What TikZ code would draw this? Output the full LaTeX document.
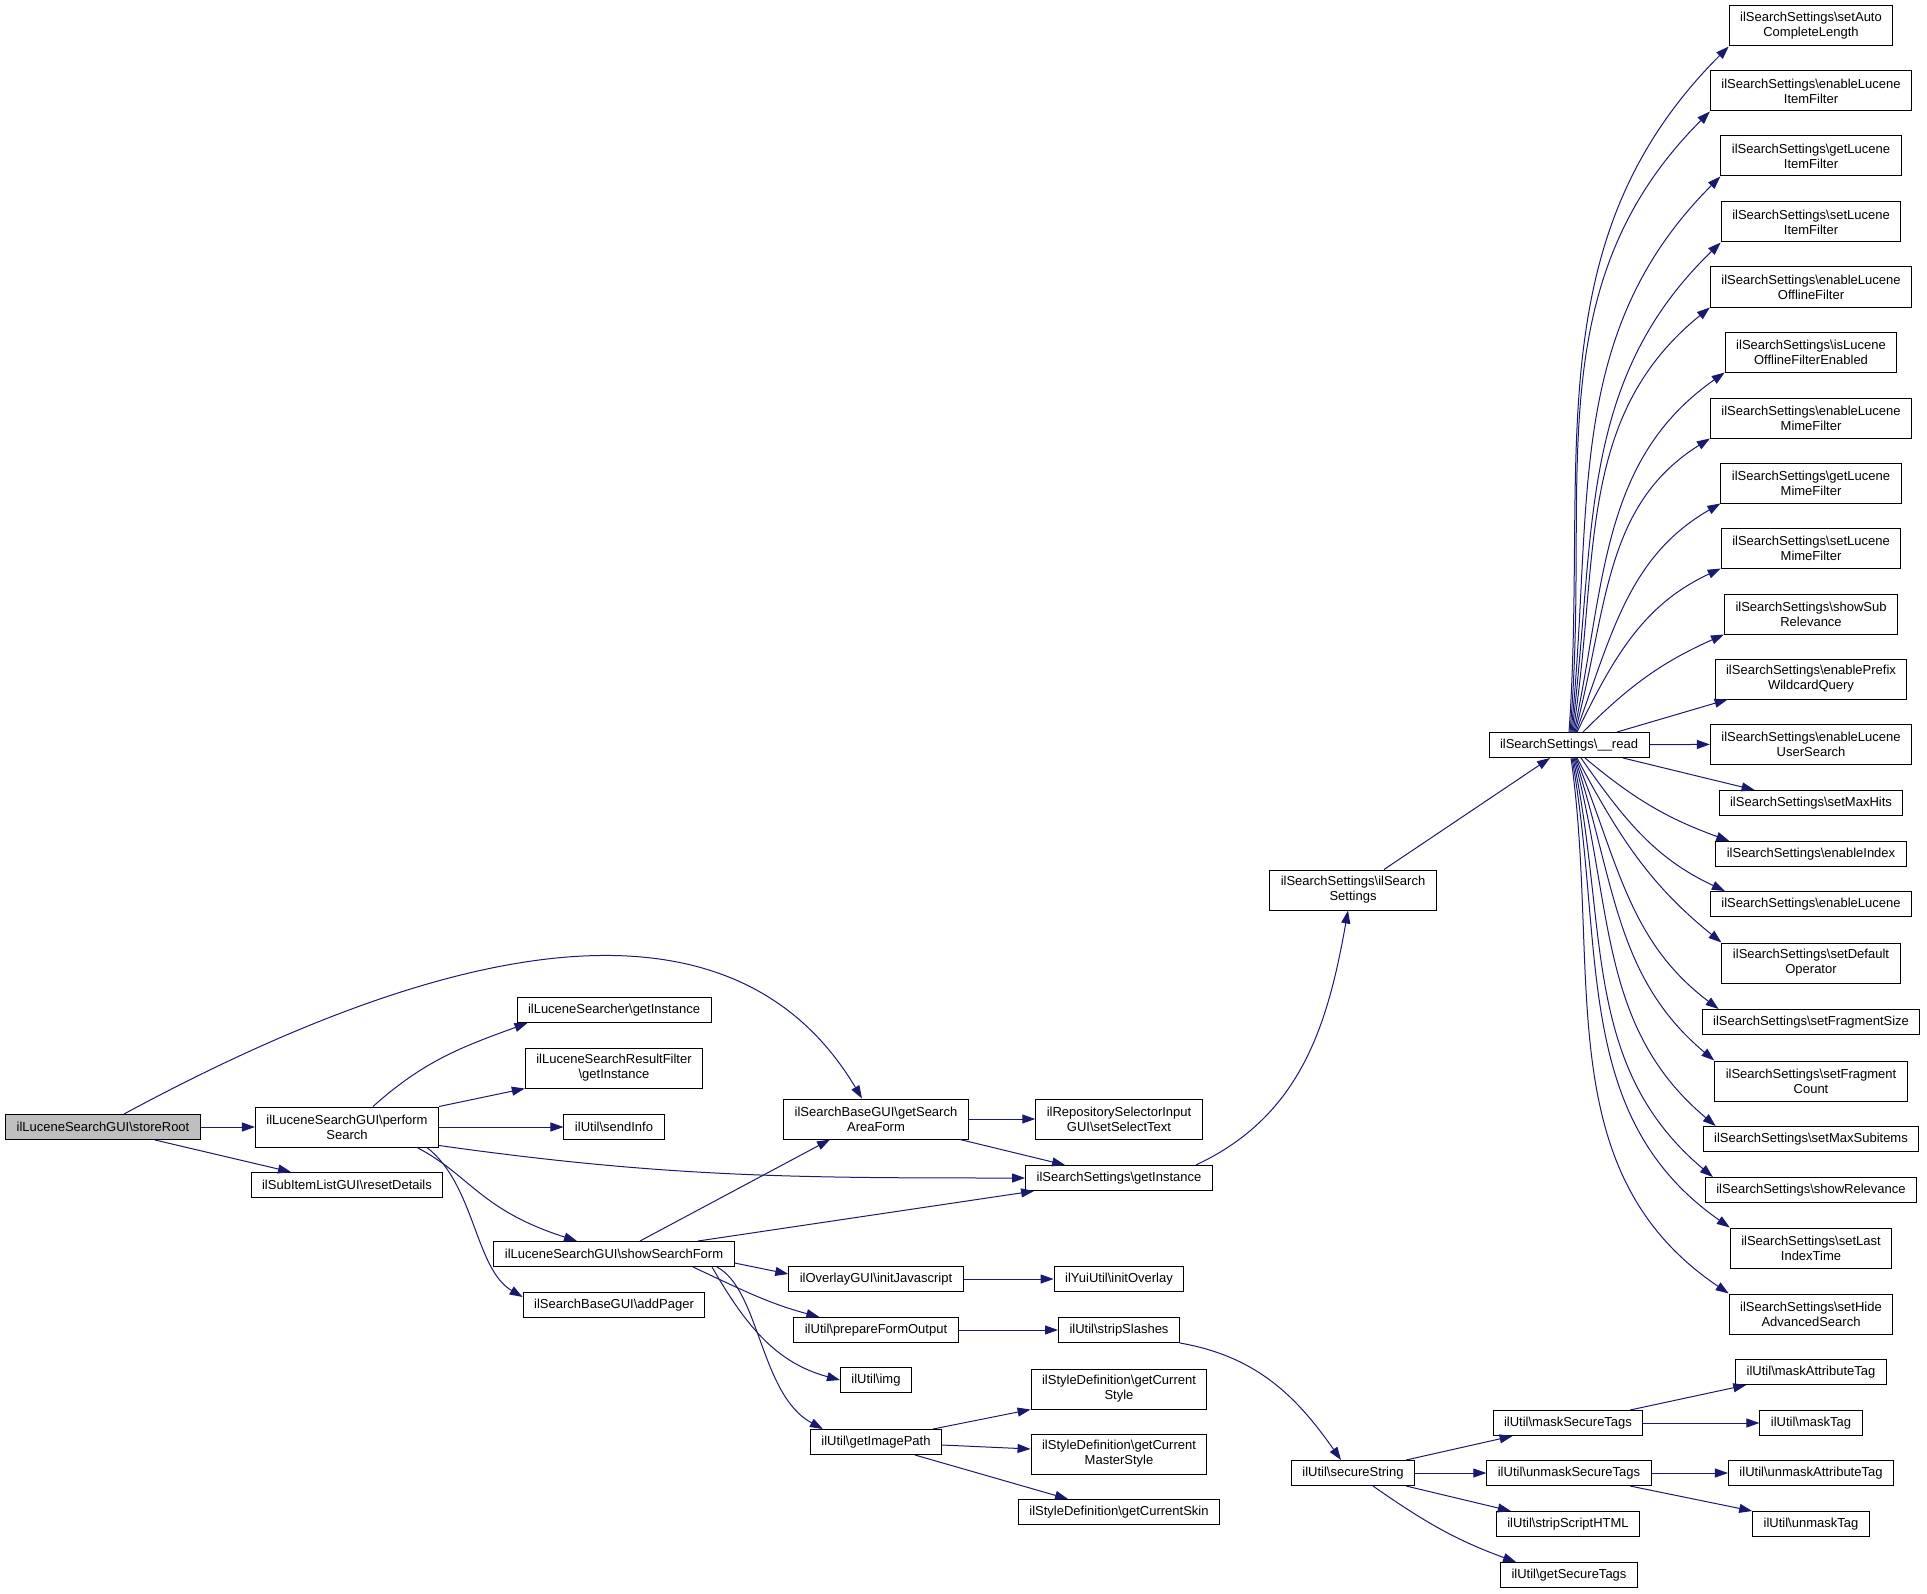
\documentclass[tikz,border=0pt]{standalone}
\usepackage{fontspec}
\setmainfont{Liberation Sans}
\usepackage{xcolor}
\usetikzlibrary{arrows.meta}

\definecolor{callblue}{RGB}{25,25,112}
\newcommand{\bsl}{\textbackslash}

\begin{document}
\begin{tikzpicture}[
            x=0.5pt, y=0.5pt,
            func/.style={draw=black, line width=0.5pt, fill=white, font=\fontsize{6.5}{7.5}\selectfont, align=center, inner xsep=5.5pt, inner ysep=3pt, minimum height=12.5pt},
            tall/.style={minimum height=20pt},
            focus/.style={func, fill=gray!50},
            call/.style={draw=callblue, line width=0.5pt, -{Triangle[length=6.5pt,width=4.5pt]}},
        ]
        \useasboundingbox (0,0) rectangle (1927,-1594);
        % caller side
        \node[focus] (root) at (103,-1127) {ilLuceneSearchGUI\bsl storeRoot};
        \node[func, tall] (perf) at (347,-1127) {ilLuceneSearchGUI\bsl perform\\Search};
        \node[func] (reset) at (347,-1185) {ilSubItemListGUI\bsl resetDetails};
        \node[func] (lsInst) at (614,-1010) {ilLuceneSearcher\bsl getInstance};
        \node[func, tall] (rfInst) at (614,-1068) {ilLuceneSearchResultFilter\\\bsl getInstance};
        \node[func] (sendInfo) at (614,-1127) {ilUtil\bsl sendInfo};
        \node[func] (showForm) at (614,-1254) {ilLuceneSearchGUI\bsl showSearchForm};
        \node[func] (addPager) at (614,-1305) {ilSearchBaseGUI\bsl addPager};
        \node[func, tall] (areaForm) at (876,-1119) {ilSearchBaseGUI\bsl getSearch\\AreaForm};
        \node[func, tall] (selText) at (1119,-1119) {ilRepositorySelectorInput\\GUI\bsl setSelectText};
        \node[func] (ssInst) at (1119,-1178) {ilSearchSettings\bsl getInstance};
        \node[func] (initJs) at (876,-1279) {ilOverlayGUI\bsl initJavascript};
        \node[func] (initOv) at (1119,-1279) {ilYuiUtil\bsl initOverlay};
        \node[func] (prepOut) at (876,-1330) {ilUtil\bsl prepareFormOutput};
        \node[func] (strip) at (1119,-1330) {ilUtil\bsl stripSlashes};
        \node[func] (img) at (876,-1380) {ilUtil\bsl img};
        \node[func] (imgPath) at (876,-1442) {ilUtil\bsl getImagePath};
        \node[func, tall] (curStyle) at (1119,-1389) {ilStyleDefinition\bsl getCurrent\\Style};
        \node[func, tall] (curMaster) at (1119,-1454) {ilStyleDefinition\bsl getCurrent\\MasterStyle};
        \node[func] (curSkin) at (1119,-1512) {ilStyleDefinition\bsl getCurrentSkin};
        \node[func, tall] (ssCtor) at (1353,-890) {ilSearchSettings\bsl ilSearch\\Settings};
        \node[func] (ssRead) at (1569,-745) {ilSearchSettings\bsl \_\_read};
        % secure string branch
        \node[func] (secStr) at (1353,-1473) {ilUtil\bsl secureString};
        \node[func] (maskSec) at (1568,-1423) {ilUtil\bsl maskSecureTags};
        \node[func] (unmaskSec) at (1569,-1473) {ilUtil\bsl unmaskSecureTags};
        \node[func] (stripHtml) at (1568,-1524) {ilUtil\bsl stripScriptHTML};
        \node[func] (getSec) at (1569,-1575) {ilUtil\bsl getSecureTags};
        \node[func] (maskAttr) at (1811,-1372) {ilUtil\bsl maskAttributeTag};
        \node[func] (maskTag) at (1811,-1423) {ilUtil\bsl maskTag};
        \node[func] (unmaskAttr) at (1811,-1473) {ilUtil\bsl unmaskAttributeTag};
        \node[func] (unmaskTag) at (1811,-1524) {ilUtil\bsl unmaskTag};
        % settings column
        \node[func, tall] (autoLen) at (1811,-26) {ilSearchSettings\bsl setAuto\\CompleteLength};
        \node[func, tall] (enItem) at (1811,-91) {ilSearchSettings\bsl enableLucene\\ItemFilter};
        \node[func, tall] (getItem) at (1811,-156) {ilSearchSettings\bsl getLucene\\ItemFilter};
        \node[func, tall] (setItem) at (1811,-222) {ilSearchSettings\bsl setLucene\\ItemFilter};
        \node[func, tall] (enOff) at (1811,-287) {ilSearchSettings\bsl enableLucene\\OfflineFilter};
        \node[func, tall] (isOff) at (1811,-352) {ilSearchSettings\bsl isLucene\\OfflineFilterEnabled};
        \node[func, tall] (enMime) at (1811,-418) {ilSearchSettings\bsl enableLucene\\MimeFilter};
        \node[func, tall] (getMime) at (1811,-483) {ilSearchSettings\bsl getLucene\\MimeFilter};
        \node[func, tall] (setMime) at (1811,-548) {ilSearchSettings\bsl setLucene\\MimeFilter};
        \node[func, tall] (subRel) at (1811,-614) {ilSearchSettings\bsl showSub\\Relevance};
        \node[func, tall] (prefix) at (1811,-679) {ilSearchSettings\bsl enablePrefix\\WildcardQuery};
        \node[func, tall] (userSrch) at (1811,-744) {ilSearchSettings\bsl enableLucene\\UserSearch};
        \node[func] (maxHits) at (1811,-803) {ilSearchSettings\bsl setMaxHits};
        \node[func] (enIdx) at (1811,-854) {ilSearchSettings\bsl enableIndex};
        \node[func] (enLuc) at (1811,-904) {ilSearchSettings\bsl enableLucene};
        \node[func, tall] (defOp) at (1811,-963) {ilSearchSettings\bsl setDefault\\Operator};
        \node[func] (fragSize) at (1811,-1022) {ilSearchSettings\bsl setFragmentSize};
        \node[func, tall] (fragCnt) at (1811,-1081) {ilSearchSettings\bsl setFragment\\Count};
        \node[func] (maxSub) at (1811,-1139) {ilSearchSettings\bsl setMaxSubitems};
        \node[func] (showRel) at (1811,-1190) {ilSearchSettings\bsl showRelevance};
        \node[func, tall] (lastIdx) at (1811,-1248) {ilSearchSettings\bsl setLast\\IndexTime};
        \node[func, tall] (hideAdv) at (1811,-1314) {ilSearchSettings\bsl setHide\\AdvancedSearch};

        % calls
        \draw[call] (root) -- (perf);
        \draw[call] ([xshift=26pt]root.south) -- ([xshift=-28pt]reset.north);
        \draw[call] ([xshift=10.5pt]root.north) .. controls (400,-965) and (720,-860) .. ([xshift=-7pt]areaForm.north);
        \draw[call] ([xshift=13pt]perf.north) to[out=42,in=-160] ([xshift=5.5pt]lsInst.south west);
        \draw[call] (perf.north east) -- (rfInst.south west);
        \draw[call] (perf) -- (sendInfo);
        \draw[call] ([yshift=1pt]perf.south east) to[out=-8,in=180] (ssInst.west);
        \draw[call] ([xshift=35pt]perf.south) .. controls (470,-1175) and (480,-1210) .. ([xshift=-18.5pt]showForm.north);
        \draw[call] ([xshift=40pt]perf.south) .. controls (475,-1185) and (475,-1269) .. ([yshift=-2.5pt]addPager.north west);
        \draw[call] (areaForm) -- (selText);
        \draw[call] ([xshift=42pt]areaForm.south) -- ([xshift=-27pt]ssInst.north);
        \draw[call] ([xshift=13pt]showForm.north) -- ([xshift=-23pt]areaForm.south);
        \draw[call] ([xshift=42pt]showForm.north) -- ([xshift=4.5pt]ssInst.south west);
        \draw[call] ([yshift=2pt]showForm.south east) -- ([yshift=-4pt]initJs.north west);
        \draw[call] ([xshift=39.5pt]showForm.south) to[out=-25,in=165] ([xshift=13pt]prepOut.north west);
        \draw[call] ([xshift=49pt]showForm.south) to[out=-60,in=165] (img.west);
        \draw[call] ([xshift=51.5pt]showForm.south) .. controls (760,-1290) and (760,-1395) .. ([xshift=6.5pt]imgPath.north west);
        \draw[call] (initJs) -- (initOv);
        \draw[call] (prepOut) -- (strip);
        \draw[call] ([xshift=28.5pt]imgPath.north) -- (curStyle.south west);
        \draw[call] ([yshift=-1.5pt]imgPath.east) -- ([yshift=2.5pt]curMaster.west);
        \draw[call] ([xshift=19.5pt]imgPath.south) -- ([xshift=-25.5pt]curSkin.north);
        \draw[call] (strip.south east) to[out=-10,in=125] ([xshift=-6pt]secStr.north);
        \draw[call] ([xshift=-8.5pt]ssInst.north east) to[out=25,in=-100] ([xshift=-2.5pt]ssCtor.south);
        \draw[call] ([xshift=15.5pt]ssCtor.north) -- ([xshift=-9.5pt]ssRead.south);
        % secure string calls
        \draw[call] ([xshift=-4.5pt]secStr.north east) -- ([xshift=10pt]maskSec.south west);
        \draw[call] (secStr) -- (unmaskSec);
        \draw[call] ([xshift=-4.5pt]secStr.south east) -- ([xshift=7.5pt]stripHtml.north west);
        \draw[call] ([xshift=10pt]secStr.south) to[out=-35,in=160] ([xshift=8pt]getSec.north west);
        \draw[call] ([xshift=31pt]maskSec.north) -- ([xshift=5.5pt]maskAttr.south west);
        \draw[call] (maskSec) -- (maskTag);
        \draw[call] (unmaskSec) -- (unmaskAttr);
        \draw[call] ([xshift=30.5pt]unmaskSec.south) -- (unmaskTag.north west);
        % __read fan, upwards
        \draw[call] (ssRead.north) to[out=86,in=-135] (autoLen.south west);
        \draw[call] ([xshift=0.5pt]ssRead.north) to[out=85,in=-135] (enItem.south west);
        \draw[call] ([xshift=1pt]ssRead.north) to[out=84,in=-135] (getItem.south west);
        \draw[call] ([xshift=1.5pt]ssRead.north) to[out=83,in=-136] (setItem.south west);
        \draw[call] ([xshift=2pt]ssRead.north) to[out=81,in=-141] (enOff.south west);
        \draw[call] ([xshift=2.5pt]ssRead.north) to[out=78,in=-145] (isOff.south west);
        \draw[call] ([xshift=3pt]ssRead.north) to[out=75,in=-148] (enMime.south west);
        \draw[call] ([xshift=3.5pt]ssRead.north) to[out=70,in=-150] (getMime.south west);
        \draw[call] ([xshift=4pt]ssRead.north) to[out=64,in=-155] (setMime.south west);
        \draw[call] ([xshift=7pt]ssRead.north) to[out=45,in=-156] (subRel.south west);
        \draw[call] ([xshift=24pt]ssRead.north) -- ([xshift=6.5pt]prefix.south west);
        \draw[call] (ssRead) -- (userSrch);
        \draw[call] ([xshift=27pt]ssRead.south) -- ([xshift=18pt]maxHits.north west);
        % __read fan, downwards
        \draw[call] ([xshift=8pt]ssRead.south) to[out=-40,in=160] ([xshift=7pt]enIdx.north west);
        \draw[call] ([xshift=6pt]ssRead.south) to[out=-55,in=155] ([xshift=7.5pt]enLuc.north west);
        \draw[call] ([xshift=4pt]ssRead.south) to[out=-62,in=141] (defOp.north west);
        \draw[call] ([xshift=3.5pt]ssRead.south) to[out=-68,in=143] ([xshift=8.5pt]fragSize.north west);
        \draw[call] ([xshift=3pt]ssRead.south) to[out=-72,in=140] (fragCnt.north west);
        \draw[call] ([xshift=2.5pt]ssRead.south) to[out=-75,in=140] ([xshift=6.5pt]maxSub.north west);
        \draw[call] ([xshift=2pt]ssRead.south) to[out=-78,in=140] ([xshift=4pt]showRel.north west);
        \draw[call] ([xshift=1.5pt]ssRead.south) to[out=-80,in=145] (lastIdx.north west);
        \draw[call] ([xshift=1pt]ssRead.south) to[out=-82,in=146] (hideAdv.north west);
    \end{tikzpicture}
\end{document}
